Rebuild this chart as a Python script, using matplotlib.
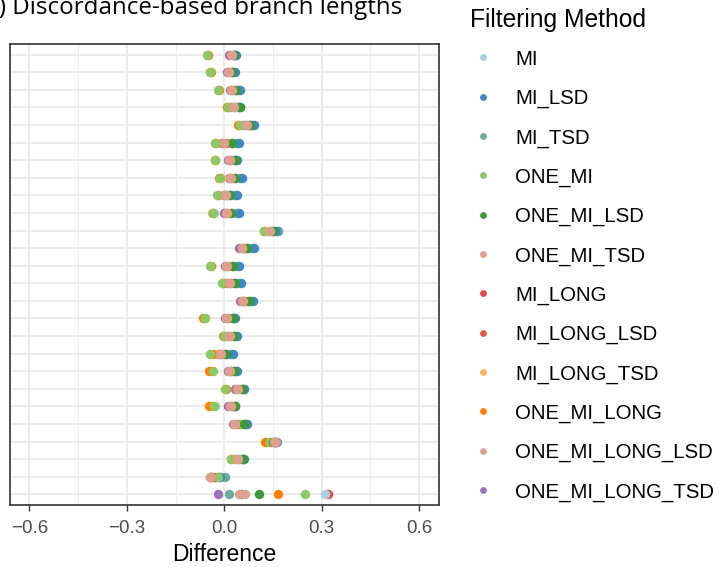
import numpy as np
import matplotlib.pyplot as plt
from matplotlib.ticker import MultipleLocator

# Filtering methods, legend order
METHODS = ['MI', 'MI_LSD', 'MI_TSD', 'ONE_MI', 'ONE_MI_LSD', 'ONE_MI_TSD',
           'MI_LONG', 'MI_LONG_LSD', 'MI_LONG_TSD', 'ONE_MI_LONG',
           'ONE_MI_LONG_LSD', 'ONE_MI_LONG_TSD']
COLORS = ['#A6CEE3', '#3F88C5', '#6BAE9F', '#8CC866', '#3A9A35', '#E09F8A',
          '#E8434A', '#E8583E', '#FBB45C', '#FF8000', '#DBA394', '#9D70BB']

# one value per branch (26 rows, top to bottom)
mi = [0.030, 0.028, 0.040, 0.040, 0.085, 0.035, 0.034, 0.045, 0.030, -0.031,
      0.160, 0.080, 0.036, 0.042, 0.082, 0.030, 0.034, 0.018, 0.034, 0.058,
      -0.028, 0.066, 0.158, 0.055, -0.015, 0.311]
mi_lsd = [0.037, 0.033, 0.050, 0.047, 0.092, 0.045, 0.040, 0.056, 0.039, 0.044,
          0.160, 0.092, 0.044, 0.051, 0.090, 0.032, 0.039, 0.026, 0.039, 0.062,
          0.030, 0.070, 0.157, 0.060, -0.012, 0.052]
mi_tsd = [0.034, 0.030, 0.045, 0.044, 0.088, 0.040, 0.037, 0.050, 0.034, 0.038,
          0.165, 0.086, 0.040, 0.046, 0.086, 0.031, 0.036, 0.022, 0.036, 0.060,
          0.032, 0.068, 0.158, 0.057, 0.001, 0.016]
one_mi = [-0.053, -0.045, -0.018, 0.013, 0.047, -0.030, -0.030, -0.012, -0.023, -0.036,
          0.121, 0.056, -0.043, -0.007, 0.058, -0.059, -0.002, -0.045, -0.036, 0.003,
          -0.033, 0.051, 0.140, 0.022, -0.019, 0.248]
one_mi_lsd = [0.030, 0.024, 0.036, 0.049, 0.080, 0.024, 0.034, 0.034, 0.018, 0.022,
              0.150, 0.070, 0.027, 0.034, 0.077, 0.026, 0.030, 0.006, 0.030, 0.055,
              0.034, 0.062, 0.150, 0.058, -0.041, 0.108]
one_mi_tsd = [0.022, 0.013, 0.022, 0.027, 0.066, -0.002, 0.015, 0.018, 0.003, 0.004,
              0.137, 0.054, 0.006, 0.015, 0.056, 0.005, 0.015, -0.012, 0.016, 0.039,
              0.018, 0.031, 0.155, 0.039, -0.043, 0.044]
mi_long = [0.026, 0.018, 0.028, 0.032, 0.075, 0.005, 0.022, 0.025, 0.010, 0.010,
           0.145, 0.062, 0.012, 0.022, 0.064, 0.012, 0.020, -0.006, 0.022, 0.045,
           0.024, 0.040, 0.156, 0.045, -0.030, 0.321]
mi_long_lsd = [0.030, 0.024, 0.036, 0.045, 0.080, 0.024, 0.033, 0.034, 0.018, 0.022,
               0.150, 0.070, 0.027, 0.034, 0.077, 0.026, 0.030, 0.006, 0.030, 0.055,
               0.032, 0.060, 0.152, 0.056, -0.020, 0.316]
mi_long_tsd = [-0.050, -0.043, -0.016, 0.010, 0.045, -0.027, -0.028, -0.010, -0.020, -0.038,
               0.122, 0.058, -0.040, -0.005, 0.058, -0.058, 0.000, -0.043, -0.040, 0.006,
               -0.040, 0.049, 0.138, 0.024, -0.040, 0.055]
one_mi_long = [-0.049, -0.042, -0.015, 0.008, 0.043, -0.024, -0.027, -0.016, -0.018, -0.034,
               0.123, 0.058, -0.040, -0.004, 0.058, -0.064, -0.004, -0.036, -0.046, 0.005,
               -0.046, 0.050, 0.124, 0.020, -0.038, 0.166]
one_mi_long_lsd = [0.025, 0.016, 0.025, 0.030, 0.070, 0.000, 0.018, 0.021, 0.006, 0.007,
                   0.140, 0.056, 0.009, 0.018, 0.058, 0.008, 0.017, -0.010, 0.018, 0.041,
                   0.020, 0.033, 0.153, 0.041, -0.040, 0.063]
one_mi_long_tsd = [0.016, 0.008, 0.018, 0.022, 0.062, -0.006, 0.012, 0.014, -0.001, 0.000,
                   0.167, 0.046, 0.002, 0.010, 0.048, 0.002, 0.010, -0.016, 0.011, 0.034,
                   0.013, 0.028, 0.164, 0.034, -0.045, -0.018]

VALUES = [mi, mi_lsd, mi_tsd, one_mi, one_mi_lsd, one_mi_tsd, mi_long, mi_long_lsd,
          mi_long_tsd, one_mi_long, one_mi_long_lsd, one_mi_long_tsd]

# drawing order, bottom to top
DRAW_ORDER = ['ONE_MI_LONG_TSD', 'MI_LONG_TSD', 'ONE_MI_LONG', 'MI_LONG', 'MI_LONG_LSD',
              'MI', 'MI_TSD', 'MI_LSD', 'ONE_MI', 'ONE_MI_LSD', 'ONE_MI_LONG_LSD',
              'ONE_MI_TSD']

W, H = 718, 567
fig = plt.figure(figsize=(W / 100, H / 100), dpi=100)
ax = fig.add_axes([10 / W, 1 - 505 / H, 428.5 / W, 461 / H])

n_rows = len(mi)
rows = np.arange(n_rows)
for name in DRAW_ORDER:
    i = METHODS.index(name)
    ax.scatter(VALUES[i], rows, s=46, color=COLORS[i], linewidths=0, zorder=3)

ax.set_xlim(-0.66, 0.66)
ax.set_ylim(n_rows - 1 + 0.6, -0.6)
ax.xaxis.set_major_locator(MultipleLocator(0.3))
ax.xaxis.set_minor_locator(MultipleLocator(0.15))
ax.set_xticks([-0.6, -0.3, 0.0, 0.3, 0.6])
ax.set_xticklabels(['\u22120.6', '\u22120.3', '0.0', '0.3', '0.6'])
ax.set_yticks(rows)
ax.set_yticklabels([])
ax.tick_params(axis='y', length=0)
ax.tick_params(axis='x', which='major', length=4, width=1, color='#333333',
               labelsize=13.5, labelcolor='#4D4D4D', pad=7)
ax.tick_params(axis='x', which='minor', length=0)
for lab in ax.get_xticklabels():
    lab.set_family('Liberation Sans')

ax.grid(True, which='major', color='#EBEBEB', linewidth=1.5, zorder=0)
ax.grid(True, which='minor', axis='x', color='#EBEBEB', linewidth=0.8, zorder=0)
ax.set_axisbelow(True)
for sp in ax.spines.values():
    sp.set_color('#333333')
    sp.set_linewidth(1.2)

ax.set_xlabel('Difference', fontsize=16.5, family='Liberation Sans', labelpad=4)

# title, partly cut off at the left edge like the original panel
renderer = fig.canvas.get_renderer()
full = '(b) Discordance-based branch lengths'
tail = 'Discordance-based branch lengths'
t_full = fig.text(0, 0, full, fontsize=17.4, family='Open Sans')
t_tail = fig.text(0, 0, tail, fontsize=17.4, family='Open Sans')
w_pre = (t_full.get_window_extent(renderer).width
         - t_tail.get_window_extent(renderer).width)
t_tail.remove()
t_full.set_position(((12 - w_pre) / W, 1 - 14 / H))
t_full.set_va('baseline')

# legend drawn by hand in pixel coordinates
lax = fig.add_axes([0, 0, 1, 1])
lax.set_xlim(0, W)
lax.set_ylim(H, 0)
lax.axis('off')
lax.text(470, 27.5, 'Filtering Method', fontsize=17.7, family='Liberation Sans',
         va='baseline', ha='left')
for i, (name, col) in enumerate(zip(METHODS, COLORS)):
    y = 57.3 + i * 39.34
    lax.scatter([483], [y], s=24, color=col, linewidths=0)
    lax.text(515, y, name, fontsize=14.7, family='Liberation Sans',
             va='center_baseline', ha='left')

fig.savefig('out.png', dpi=100)
